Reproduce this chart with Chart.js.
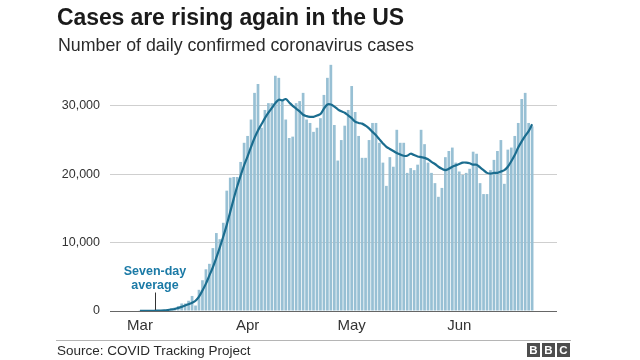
<!DOCTYPE html>
<html><head><meta charset="utf-8">
<script src="https://cdn.jsdelivr.net/npm/chart.js@4"></script>
<style>
html,body{margin:0;padding:0;background:#fff;width:640px;height:360px;overflow:hidden;font-family:"Liberation Sans",Arial,sans-serif;}
#wrap{position:relative;width:640px;height:360px;}
canvas{position:absolute;left:0;top:0;}
.t{position:absolute;white-space:nowrap;color:#1a1a1a;}
#title{left:57px;top:4px;font-size:23px;font-weight:bold;letter-spacing:-0.1px;}
#sub{left:58px;top:35px;font-size:17.8px;color:#2a2a2a;}
#rule{position:absolute;left:56px;top:340px;width:515px;height:1px;background:#b5b5b5;}
#src{left:57px;top:343px;font-size:13.5px;color:#2a2a2a;}
#bbc{position:absolute;left:527px;top:343px;display:flex;gap:2px;}
#bbc span{display:block;width:13px;height:14px;background:#4d4d4d;color:#fff;font-weight:bold;font-size:11.5px;line-height:14px;text-align:center;}
#ann{left:122px;top:264px;width:66px;text-align:center;font-size:12.5px;line-height:14px;font-weight:bold;color:#1b7aa6;}
</style></head>
<body><div id="wrap">
<canvas id="c" width="640" height="360"></canvas>
<div class="t" id="title">Cases are rising again in the US</div>
<div class="t" id="sub">Number of daily confirmed coronavirus cases</div>
<div class="t" id="ann">Seven-day<br>average</div>
<div id="rule"></div>
<div class="t" id="src">Source: COVID Tracking Project</div>
<div id="bbc"><span>B</span><span>B</span><span>C</span></div>
</div>
<script>
// Daily confirmed cases (thousands), one per day from 1 March 2020
const cases = [
0.01,0.02,0.02,0.03,0.05,0.07,0.1,0.15,0.25,0.4,
0.5,0.7,1.1,1.1,1.5,2.2,0.8,3.1,4.5,6.1,
6.9,9.2,11.4,10.5,12.9,17.6,19.5,19.6,19.6,21.8,
24.6,25.6,28.0,31.9,33.2,26.8,29.4,30.4,30.4,34.4,
34.1,30.9,28.0,25.3,25.5,30.4,30.7,31.9,28.0,27.5,
26.2,26.8,28.2,31.6,34.1,36.0,27.2,22.0,25.0,27.1,
29.4,32.9,29.1,25.6,22.4,22.4,25.0,27.5,27.5,24.6,
21.7,18.3,22.5,21.1,26.5,24.6,24.6,20.2,20.9,20.6,
21.4,26.5,24.4,21.7,20.2,18.7,16.7,18.0,22.5,23.4,
23.9,21.7,20.4,19.9,20.2,20.8,23.3,23.0,18.7,17.1,
17.1,20.6,22.1,23.4,25.0,18.6,23.6,23.9,25.6,27.5,
31.0,31.9,27.5,27.0
];
// Seven-day average (thousands)
const average = [
0.01,0.01,0.02,0.02,0.03,0.05,0.07,0.1,0.15,0.22,
0.3,0.45,0.6,0.8,1.0,1.2,1.5,2.1,3.0,4.0,
5.2,6.4,7.8,9.3,10.9,12.6,14.5,16.4,18.2,19.8,
21.3,22.6,24.0,25.3,26.4,27.3,28.2,29.0,29.7,30.4,
30.9,30.8,31.0,30.5,30.0,29.6,29.2,28.7,28.5,28.4,
28.4,28.6,28.8,29.6,30.2,30.2,29.9,29.5,29.2,29.0,
28.6,28.2,27.7,27.5,27.4,27.1,26.7,26.2,25.7,25.1,
24.5,24.0,23.7,23.4,23.1,22.9,22.7,22.7,23.0,22.8,
22.6,22.5,22.4,22.2,21.8,21.5,21.1,20.8,20.6,20.8,
21.1,21.3,21.5,21.7,21.7,21.6,21.4,21.4,21.0,20.6,
20.2,20.1,20.2,20.2,20.4,20.6,21.1,21.9,22.8,23.9,
24.8,25.6,26.3,27.3
];
const tickDays = [0, 31, 61, 92];
const tickLabels = ['Mar', 'Apr', 'May', 'Jun'];
const yTicks = [0, 10000, 20000, 30000];
const annDay = 4.3;

const annPlugin = {
  id: 'annPointer',
  afterDatasetsDraw(chart) {
    const {ctx, scales: {x, y}} = chart;
    const px = Math.round(x.getPixelForValue(annDay)) + 0.5;
    ctx.save();
    ctx.strokeStyle = '#333';
    ctx.lineWidth = 1;
    ctx.beginPath();
    ctx.moveTo(px, y.getPixelForValue(2700));
    ctx.lineTo(px, y.getPixelForValue(150));
    ctx.stroke();
    ctx.restore();
  }
};

Chart.defaults.font.family = '"Liberation Sans", Arial, sans-serif';
new Chart(document.getElementById('c'), {
  type: 'bar',
  data: {
    datasets: [
      {type: 'line', data: average.map((v, i) => ({x: i, y: v * 1000})), borderColor: '#1b6d8f', borderWidth: 2.2, pointRadius: 0, tension: 0.35, order: 1},
      {type: 'bar', data: cases.map((v, i) => ({x: i, y: v * 1000})), backgroundColor: '#98c0d4', categoryPercentage: 1, barPercentage: 0.78, order: 2}
    ]
  },
  options: {
    responsive: false, animation: false, devicePixelRatio: 1,
    layout: {padding: {left: 50, right: 83, top: 58, bottom: 21}},
    plugins: {legend: {display: false}, tooltip: {enabled: false}},
    scales: {
      x: {
        type: 'linear', min: -8.65, max: 120.17, offset: false,
        grid: {display: false}, border: {display: false},
        afterBuildTicks: s => { s.ticks = tickDays.map(v => ({value: v})); },
        ticks: {autoSkip: false, maxRotation: 0, padding: -2, font: {size: 15}, color: '#333',
          callback: v => tickLabels[tickDays.indexOf(v)]},
        afterFit: s => { s.height = 28; }
      },
      y: {
        min: 0, max: 37000,
        grid: {color: c => (c.tick && c.tick.value === 0) ? '#666' : '#cfcfcf', drawTicks: false},
        border: {display: false},
        afterBuildTicks: s => { s.ticks = yTicks.map(v => ({value: v})); },
        ticks: {padding: 10, font: {size: 12.5}, color: '#333', callback: v => v.toLocaleString('en-US')},
        afterFit: s => { s.width = 60; }
      }
    }
  },
  plugins: [annPlugin]
});
</script>
</body></html>
